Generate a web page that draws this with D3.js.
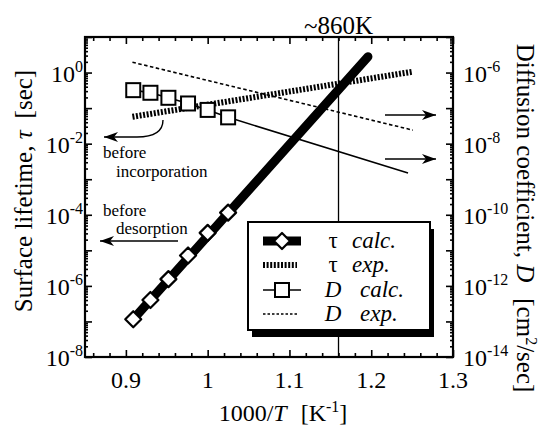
<!DOCTYPE html>
<html>
<head>
<meta charset="utf-8">
<script src="https://cdn.jsdelivr.net/npm/d3@7"></script>
<style>
  body { margin: 0; background: #fff; }
  svg text { font-family: "Liberation Serif", "DejaVu Serif", serif; fill: #000; }
</style>
</head>
<body>
<script>
// data (x = 1000/T)
const calcX = [0.909, 0.930, 0.952, 0.976, 1.000, 1.025];
const tauCalc = [1.15e-7, 4.0e-7, 1.55e-6, 7.2e-6, 3.1e-5, 1.15e-4];
const tauCalcEndX = [1.196];
const tauCalcEnd = [2.8];
const tauExpX = [0.908, 1.251];
const tauExp = [5.7e-2, 1.06];
const dCalc = [3.2e-7, 2.7e-7, 1.95e-7, 1.35e-7, 8.9e-8, 5.5e-8];
const dCalcEndX = [1.245];
const dCalcEnd = [1.5e-9];
const dExpX = [0.908, 1.251];
const dExp = [1.95e-6, 2.4e-8];
const markX = 1.16;

const xTicks = [0.9, 1, 1.1, 1.2, 1.3];
const xTickLabels = ["0.9", "1", "1.1", "1.2", "1.3"];
const leftExps = [0, -2, -4, -6, -8];
const rightExps = [-6, -8, -10, -12, -14];

const W = 542, H = 425;
const L = 85, R = 453, T = 37, B = 357;

const svg = d3.select("body").append("svg")
  .attr("width", W).attr("height", H);

const x = d3.scaleLinear().domain([0.85, 1.3]).range([L, R]);
const yL = d3.scaleLog().domain([1e-8, 1e1]).range([B, T]);
const yR = d3.scaleLog().domain([1e-14, 1e-5]).range([B, T]);

const defs = svg.append("defs");
defs.append("marker")
  .attr("id", "arr")
  .attr("viewBox", "0 0 14 10")
  .attr("refX", 14).attr("refY", 5)
  .attr("markerWidth", 14).attr("markerHeight", 10)
  .attr("markerUnits", "userSpaceOnUse")
  .attr("orient", "auto")
  .append("path")
  .attr("d", "M0,0 L14,5 L0,10 L4,5 Z")
  .attr("fill", "#000");

// ticks (all pointing inward)
const minorX = d3.range(0.86, 1.3, 0.02).filter(v => xTicks.every(t => Math.abs(t - v) > 1e-6));
function logMinor(lo, hi) {
  const out = [];
  for (let e = lo; e < hi; e++) for (let k = 2; k <= 9; k++) out.push(k * Math.pow(10, e));
  return out;
}
const decL = d3.range(-8, 2).map(e => Math.pow(10, e));
const decR = d3.range(-14, -4).map(e => Math.pow(10, e));

svg.append("g").attr("transform", `translate(0,${B})`)
  .call(d3.axisBottom(x).tickValues(xTicks).tickSize(-7).tickFormat(""));
svg.append("g").attr("transform", `translate(0,${B})`)
  .call(d3.axisBottom(x).tickValues(minorX).tickSize(-4).tickFormat(""));
svg.append("g").attr("transform", `translate(0,${T})`)
  .call(d3.axisTop(x).tickValues(xTicks).tickSize(-7).tickFormat(""));
svg.append("g").attr("transform", `translate(0,${T})`)
  .call(d3.axisTop(x).tickValues(minorX).tickSize(-4).tickFormat(""));
svg.append("g").attr("transform", `translate(${L},0)`)
  .call(d3.axisLeft(yL).tickValues(decL).tickSize(-7).tickFormat(""));
svg.append("g").attr("transform", `translate(${L},0)`)
  .call(d3.axisLeft(yL).tickValues(logMinor(-8, 1)).tickSize(-3).tickFormat(""));
svg.append("g").attr("transform", `translate(${R},0)`)
  .call(d3.axisRight(yR).tickValues(decR).tickSize(-7).tickFormat(""));
svg.append("g").attr("transform", `translate(${R},0)`)
  .call(d3.axisRight(yR).tickValues(logMinor(-14, -5)).tickSize(-3).tickFormat(""));
svg.selectAll(".domain").remove();
svg.selectAll(".tick line").attr("stroke", "#000").attr("stroke-width", 1.6);

// tick labels
svg.append("g").selectAll("text").data(xTicks).join("text")
  .attr("x", d => x(d)).attr("y", B + 31)
  .attr("text-anchor", "middle").attr("font-size", 24)
  .text((d, i) => xTickLabels[i]);

const lt = svg.append("g").selectAll("text").data(leftExps).join("text")
  .attr("x", L - 2).attr("y", d => yL(Math.pow(10, d)) + 9)
  .attr("text-anchor", "end").attr("font-size", 24);
lt.append("tspan").text("10");
lt.append("tspan").attr("dy", -10).attr("font-size", 16).text(d => d);

const rt = svg.append("g").selectAll("text").data(rightExps).join("text")
  .attr("x", R + 10).attr("y", d => yR(Math.pow(10, d)) + 9)
  .attr("text-anchor", "start").attr("font-size", 24);
rt.append("tspan").text("10");
rt.append("tspan").attr("dy", -10).attr("font-size", 16).text(d => d);

// axis titles
const xt = svg.append("text").attr("x", 283).attr("y", 421)
  .attr("text-anchor", "middle").attr("font-size", 24);
xt.append("tspan").text("1000/");
xt.append("tspan").attr("font-style", "italic").text("T");
xt.append("tspan").attr("dx", 14).text("[K");
xt.append("tspan").attr("dy", -9).attr("font-size", 16).text("-1");
xt.append("tspan").attr("dy", 9).text("]");

const ylt = svg.append("text")
  .attr("transform", "translate(32,191) rotate(-90)")
  .attr("text-anchor", "middle").attr("font-size", 25);
ylt.append("tspan").text("Surface lifetime, ");
ylt.append("tspan").attr("font-style", "italic").text("τ");
ylt.append("tspan").attr("dx", 12).text("[sec]");

const yrt = svg.append("text")
  .attr("transform", "translate(517,218) rotate(90)")
  .attr("text-anchor", "middle").attr("font-size", 25);
yrt.append("tspan").text("Diffusion coefficient, ");
yrt.append("tspan").attr("font-style", "italic").text("D");
yrt.append("tspan").attr("dx", 16).text("[cm");
yrt.append("tspan").attr("dy", -9).attr("font-size", 16).text("2");
yrt.append("tspan").attr("dy", 9).text("/sec]");

// data lines
const lineL = d3.line().x(d => x(d[0])).y(d => yL(d[1]));
const lineR = d3.line().x(d => x(d[0])).y(d => yR(d[1]));

// vertical marker (~860K)
svg.append("line")
  .attr("x1", x(markX)).attr("x2", x(markX))
  .attr("y1", T).attr("y2", B)
  .attr("stroke", "#000").attr("stroke-width", 1.3);

svg.append("path")
  .attr("d", lineR(d3.zip(dExpX, dExp)))
  .attr("fill", "none").attr("stroke", "#000")
  .attr("stroke-width", 1.6).attr("stroke-dasharray", "3.5,2.5");

const dCalcPts = d3.zip(calcX, dCalc).concat(d3.zip(dCalcEndX, dCalcEnd));
svg.append("path")
  .attr("d", lineR(dCalcPts))
  .attr("fill", "none").attr("stroke", "#000").attr("stroke-width", 1.6);

svg.append("path")
  .attr("d", lineL(d3.zip(tauExpX, tauExp)))
  .attr("fill", "none").attr("stroke", "#000")
  .attr("stroke-width", 6).attr("stroke-dasharray", "2,1.6");

svg.selectAll(".sq").data(d3.zip(calcX, dCalc)).join("rect")
  .attr("class", "sq")
  .attr("x", d => x(d[0]) - 7).attr("y", d => yR(d[1]) - 7)
  .attr("width", 14).attr("height", 14)
  .attr("fill", "#fff").attr("stroke", "#000").attr("stroke-width", 2);

const tauCalcPts = d3.zip(calcX, tauCalc).concat(d3.zip(tauCalcEndX, tauCalcEnd));
svg.append("path")
  .attr("d", lineL([tauCalcPts[0], tauCalcPts[tauCalcPts.length - 1]]))
  .attr("fill", "none").attr("stroke", "#000")
  .attr("stroke-width", 9).attr("stroke-linecap", "round");

const diamond = "M0,-8 L8,0 L0,8 L-8,0 Z";
svg.selectAll(".dm").data(d3.zip(calcX, tauCalc)).join("path")
  .attr("class", "dm")
  .attr("transform", d => `translate(${x(d[0])},${yL(d[1])})`)
  .attr("d", diamond)
  .attr("fill", "#fff").attr("stroke", "#000")
  .attr("stroke-width", 2.2).attr("stroke-linejoin", "round");

// label for marker
svg.append("text").attr("x", x(markX)).attr("y", 34)
  .attr("text-anchor", "middle").attr("font-size", 25).text("~860K");

// annotations
svg.append("path")
  .attr("d", "M163,120 C163,133 152,137 137,137 L104,137")
  .attr("fill", "none").attr("stroke", "#000").attr("stroke-width", 1.4)
  .attr("marker-end", "url(#arr)");
svg.append("text").attr("x", 103).attr("y", 158).attr("font-size", 17).text("before");
svg.append("text").attr("x", 116).attr("y", 177).attr("font-size", 17).text("incorporation");

svg.append("text").attr("x", 103).attr("y", 216).attr("font-size", 17).text("before");
svg.append("text").attr("x", 116).attr("y", 234).attr("font-size", 17).text("desorption");
svg.append("path")
  .attr("d", "M178,241 L100,241")
  .attr("fill", "none").attr("stroke", "#000").attr("stroke-width", 1.4)
  .attr("marker-end", "url(#arr)");

[115, 159].forEach(yy => {
  svg.append("path")
    .attr("d", `M385,${yy} L436,${yy}`)
    .attr("fill", "none").attr("stroke", "#000").attr("stroke-width", 1.4)
    .attr("marker-end", "url(#arr)");
});

// legend
const lg = svg.append("g");
const bx = 248, by = 222, bw = 182, bh = 108;
lg.append("rect").attr("x", bx + 4).attr("y", by + 7).attr("width", bw).attr("height", bh)
  .attr("fill", "#000");
lg.append("rect").attr("x", bx).attr("y", by).attr("width", bw).attr("height", bh)
  .attr("fill", "#fff").attr("stroke", "#000").attr("stroke-width", 2);

const rows = [241, 265, 290, 314];
lg.append("line").attr("x1", 263).attr("x2", 301).attr("y1", rows[0]).attr("y2", rows[0])
  .attr("stroke", "#000").attr("stroke-width", 9);
lg.append("path").attr("transform", `translate(282,${rows[0]})`).attr("d", diamond)
  .attr("fill", "#fff").attr("stroke", "#000").attr("stroke-width", 2.2).attr("stroke-linejoin", "round");
lg.append("line").attr("x1", 263).attr("x2", 297).attr("y1", rows[1]).attr("y2", rows[1])
  .attr("stroke", "#000").attr("stroke-width", 6).attr("stroke-dasharray", "2,1.6");
lg.append("line").attr("x1", 263).attr("x2", 301).attr("y1", rows[2]).attr("y2", rows[2])
  .attr("stroke", "#000").attr("stroke-width", 1.6);
lg.append("rect").attr("x", 275).attr("y", rows[2] - 7).attr("width", 14).attr("height", 14)
  .attr("fill", "#fff").attr("stroke", "#000").attr("stroke-width", 2);
lg.append("line").attr("x1", 263).attr("x2", 297).attr("y1", rows[3]).attr("y2", rows[3])
  .attr("stroke", "#000").attr("stroke-width", 1.4).attr("stroke-dasharray", "2.5,2");

const legText = [["τ", false, "calc."], ["τ", false, "exp."], ["D", true, "calc."], ["D", true, "exp."]];
legText.forEach((t, i) => {
  lg.append("text").attr("x", 333).attr("y", rows[i] + 7)
    .attr("text-anchor", "middle").attr("font-size", 23)
    .attr("font-style", t[1] ? "italic" : "normal").text(t[0]);
  lg.append("text").attr("x", t[1] ? 360 : 352).attr("y", rows[i] + 7)
    .attr("font-size", 23).attr("font-style", "italic").text(t[2]);
});

// frame
svg.append("rect").attr("x", L).attr("y", T).attr("width", R - L).attr("height", B - T)
  .attr("fill", "none").attr("stroke", "#000").attr("stroke-width", 2.2);
</script>
</body>
</html>
